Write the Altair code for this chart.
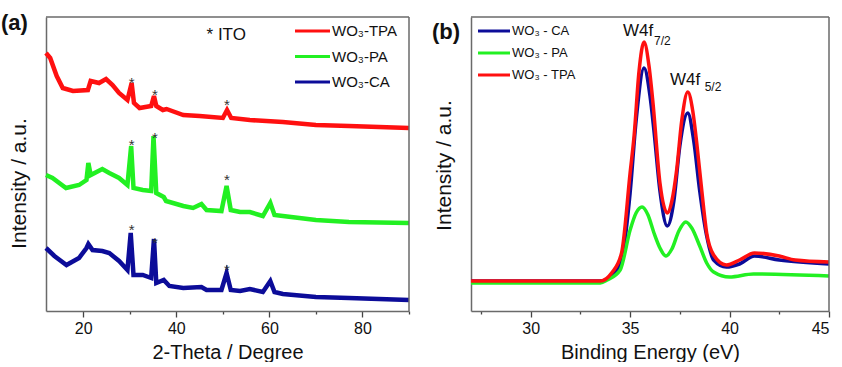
import altair as alt
import pandas as pd

FONT = "Liberation Sans"
RED, GREEN, BLUE = "#ff1010", "#22f022", "#0c0c99"

# ---------- Panel (a): XRD ----------
tpa_x = [12, 12.9, 14.3, 15.6, 17.8, 21, 21.6, 23.4, 24.9, 26.3, 27.7, 29.5, 30.4, 30.9, 32.1, 34.6, 35.2, 35.7, 37.1, 37.9, 41.5, 45, 50, 50.9, 51.8, 55.8, 62.9, 70, 77.1, 90]
tpa_y = [258, 253, 235, 223, 220, 221, 230, 228, 232, 226, 218, 211, 228, 208, 203, 205, 215, 205, 201, 202, 196, 195, 193, 201, 193, 191, 189, 186, 185, 183]

pa_x = [12, 13.4, 16.3, 19.1, 20.7, 21.1, 21.6, 24.1, 25.6, 27.7, 29.5, 30.3, 30.8, 32.8, 34.6, 35.1, 35.7, 37.3, 37.8, 41.5, 43.6, 45.4, 46.5, 49.7, 50.8, 51.7, 53.7, 55.8, 58.6, 60.2, 61.1, 62.9, 70, 77.1, 90]
pa_y = [136, 133, 123, 126, 131, 148, 136, 142, 138, 133, 126, 165, 123, 121, 120, 175, 118, 114, 110, 105, 103, 107, 101, 100, 125, 101, 99, 99, 95, 108, 96, 95, 91, 89, 88]

ca_x = [12, 13.8, 16.4, 19.1, 20.7, 21.1, 22, 24.1, 25.6, 27.7, 29.5, 30.2, 30.8, 32.8, 34.6, 35.2, 35.7, 37.3, 38.5, 41.5, 45.4, 46.5, 49.7, 50.8, 51.7, 53.7, 55.8, 58.6, 60.2, 61.1, 62.9, 70, 77.1, 90]
ca_y = [63, 55, 46, 53, 63, 67, 61, 60, 58, 50, 41, 78, 36, 36, 33, 72, 28, 31, 25, 23, 24, 21, 21, 38, 21, 20, 22, 19, 30, 19, 17, 14, 13, 11]

a_names = ["WO₃-TPA", "WO₃-PA", "WO₃-CA"]
star_x = [30.4, 35.4, 50.9, 30.4, 35.4, 50.9, 30.4, 35.4, 50.9]
star_y = [232, 220, 210, 170, 177, 135, 85, 72, 45]
ito_label = ["* ITO"]
ito_x = [46.5]
ito_y = [271]

# ---------- Panel (b): XPS ----------
b_ca_x = [27, 33.5, 34.07, 34.57, 35.0, 35.3, 35.7, 36.0, 36.2, 36.5, 36.87, 37.2, 37.5, 37.9, 38.2, 38.5, 38.85, 39.2, 39.84, 40.5, 41.25, 42.5, 45]
b_ca_y = [30, 30, 35, 51, 118, 190, 243, 215, 180, 120, 85, 110, 165, 198, 170, 120, 75, 51, 44, 47, 55, 51, 47]

b_pa_x = [27, 33.5, 33.85, 34.5, 35.0, 35.3, 35.6, 35.9, 36.2, 36.5, 36.8, 37.1, 37.45, 37.8, 38.1, 38.5, 38.85, 39.2, 40.0, 41.2, 45]
b_pa_y = [28, 28, 31, 41, 81, 98, 104, 96, 78, 63, 55, 62, 80, 89, 83, 65, 48, 39, 34, 37, 35]

b_tpa_x = [27, 33.5, 34.07, 34.57, 35.0, 35.2, 35.45, 35.7, 35.95, 36.15, 36.5, 36.87, 37.1, 37.34, 37.6, 37.9, 38.15, 38.35, 38.6, 38.85, 39.2, 39.84, 40.5, 41.25, 42.5, 43.3, 45]
b_tpa_y = [30, 30, 38, 58, 138, 175, 240, 269, 245, 208, 128, 98, 110, 141, 191, 219, 200, 168, 121, 78, 56, 46, 51, 58, 55, 51, 49]

b_names = ["WO₃ - CA", "WO₃ - PA", "WO₃ - TPA"]
peak_main = ["W4f", "W4f"]
peak_main_x = [34.64, 37.0]
peak_main_y = [275, 226]
peak_sub = ["7/2", "5/2"]
peak_sub_x = [36.2, 38.75]
peak_sub_y = [266, 220]

# ---------- build tables ----------
dfa = pd.concat([
    pd.DataFrame({"x": tpa_x, "y": tpa_y, "s": a_names[0]}),
    pd.DataFrame({"x": pa_x, "y": pa_y, "s": a_names[1]}),
    pd.DataFrame({"x": ca_x, "y": ca_y, "s": a_names[2]}),
])
dfb = pd.concat([
    pd.DataFrame({"x": b_ca_x, "y": b_ca_y, "s": b_names[0]}),
    pd.DataFrame({"x": b_pa_x, "y": b_pa_y, "s": b_names[1]}),
    pd.DataFrame({"x": b_tpa_x, "y": b_tpa_y, "s": b_names[2]}),
])
stars = pd.DataFrame({"x": star_x, "y": star_y, "t": "*"})
ito = pd.DataFrame({"x": ito_x, "y": ito_y, "t": ito_label})
pmain = pd.DataFrame({"x": peak_main_x, "y": peak_main_y, "t": peak_main})
psub = pd.DataFrame({"x": peak_sub_x, "y": peak_sub_y, "t": peak_sub})

FRAME = "#6a6a6a"
LW = 1.5


def y_axis(title_y):
    return alt.Axis(title="Intensity / a.u.", labels=False, ticks=False, grid=False,
                    domainColor=FRAME, domainWidth=LW, titleFont=FONT, titleFontSize=21,
                    titleFontWeight="normal", titleColor="#111111",
                    titlePadding=17, titleY=title_y)


def x_axis(title, vals, major_test):
    return alt.Axis(title=title, values=vals, grid=False, domainColor=FRAME, domainWidth=LW,
                    tickColor="#444444", tickWidth=1.3,
                    tickSize={"condition": {"test": major_test, "value": 6}, "value": 3},
                    labelExpr=f"{major_test} ? datum.label : ''",
                    labelFont=FONT, labelFontSize=16, labelColor="#111111", labelPadding=3,
                    titleFont=FONT, titleFontSize=20, titleFontWeight="normal",
                    titleColor="#111111", titlePadding=6)


def frame(w, h):
    d = pd.DataFrame({"k": [0]})
    top = alt.Chart(d).mark_rule(color=FRAME, strokeWidth=LW).encode(
        x=alt.value(0), x2=alt.value(w), y=alt.value(0))
    right = alt.Chart(d).mark_rule(color=FRAME, strokeWidth=LW).encode(
        x=alt.value(w), y=alt.value(0), y2=alt.value(h))
    return [top, right]


def manual_legend(names, scale, x0, length, y0, step, fsize):
    layers = []
    for i, n in enumerate(names):
        d = pd.DataFrame({"s": [n]})
        yy = y0 + i * step
        layers.append(alt.Chart(d).mark_rule(strokeWidth=3).encode(
            x=alt.value(x0), x2=alt.value(x0 + length), y=alt.value(yy),
            color=alt.Color("s:N", scale=scale, legend=None)))
        layers.append(alt.Chart(d).mark_text(font=FONT, fontSize=fsize, color="#111111",
                                             align="left", baseline="middle").encode(
            x=alt.value(x0 + length + 2), y=alt.value(yy), text="s:N"))
    return layers


# Panel a
WA, HA = 363, 294
scale_a = alt.Scale(domain=a_names, range=[RED, GREEN, BLUE])
xa = alt.X("x:Q", scale=alt.Scale(domain=[12, 90], nice=False, zero=False),
           axis=x_axis("2-Theta / Degree", [20, 30, 40, 50, 60, 70, 80, 90], "datum.value % 20 === 0"))
ya = alt.Y("y:Q", scale=alt.Scale(domain=[0, 294], nice=False), axis=y_axis(166))

lines_a = alt.Chart(dfa).mark_line(strokeWidth=4.5).encode(
    x=xa, y=ya, detail="s:N",
    color=alt.Color("s:N", scale=scale_a, legend=None),
)
stars_a = alt.Chart(stars).mark_text(font=FONT, fontSize=15, color="#333333", baseline="middle", dy=4).encode(
    x="x:Q", y="y:Q", text="t:N")
ito_a = alt.Chart(ito).mark_text(font=FONT, fontSize=17, color="#111111", align="left", baseline="alphabetic").encode(
    x="x:Q", y="y:Q", text="t:N")
tag_a = alt.Chart(pd.DataFrame({"t": ["(a)"]})).mark_text(
    font=FONT, fontSize=22, fontWeight="bold", align="left", baseline="top", color="#111111"
).encode(x=alt.value(-45), y=alt.value(-4), text="t:N")

panel_a = alt.layer(lines_a, *frame(WA, HA), stars_a, ito_a, tag_a,
                    *manual_legend(a_names, scale_a, 249, 35, 14, 25.5, 15)
                    ).properties(width=WA, height=HA)

# Panel b
WB, HB = 358, 294
scale_b = alt.Scale(domain=b_names, range=[BLUE, GREEN, RED])
xb = alt.X("x:Q", scale=alt.Scale(domain=[27, 45], nice=False, zero=False),
           axis=x_axis("Binding Energy (eV)", [27.5, 30, 32.5, 35, 37.5, 40, 42.5, 45], "datum.value % 5 === 0"))
yb = alt.Y("y:Q", scale=alt.Scale(domain=[0, 294], nice=False), axis=y_axis(148))

lines_b = alt.Chart(dfb).mark_line(strokeWidth=3.5, interpolate="monotone").encode(
    x=xb, y=yb, detail="s:N",
    color=alt.Color("s:N", scale=scale_b, legend=None),
)
pm_b = alt.Chart(pmain).mark_text(font=FONT, fontSize=17, color="#111111", align="left", baseline="alphabetic").encode(
    x="x:Q", y="y:Q", text="t:N")
ps_b = alt.Chart(psub).mark_text(font=FONT, fontSize=12, color="#111111", align="left", baseline="alphabetic").encode(
    x="x:Q", y="y:Q", text="t:N")
tag_b = alt.Chart(pd.DataFrame({"t": ["(b)"]})).mark_text(
    font=FONT, fontSize=22, fontWeight="bold", align="left", baseline="alphabetic", color="#111111"
).encode(x=alt.value(-39), y=alt.value(22), text="t:N")

panel_b = alt.layer(lines_b, *frame(WB, HB), pm_b, ps_b, tag_b,
                    *manual_legend(b_names, scale_b, 7, 32, 14, 22, 13)
                    ).properties(width=WB, height=HB)

chart = alt.hconcat(panel_a, panel_b, spacing=62, bounds="flush").resolve_scale(
    color="independent", x="independent", y="independent"
).configure_view(
    stroke=None
).properties(
    padding={"left": 1, "top": 12, "right": 0, "bottom": 0}, background="white"
)

chart.save("out.html", embed_options={"renderer": "svg", "actions": False})
